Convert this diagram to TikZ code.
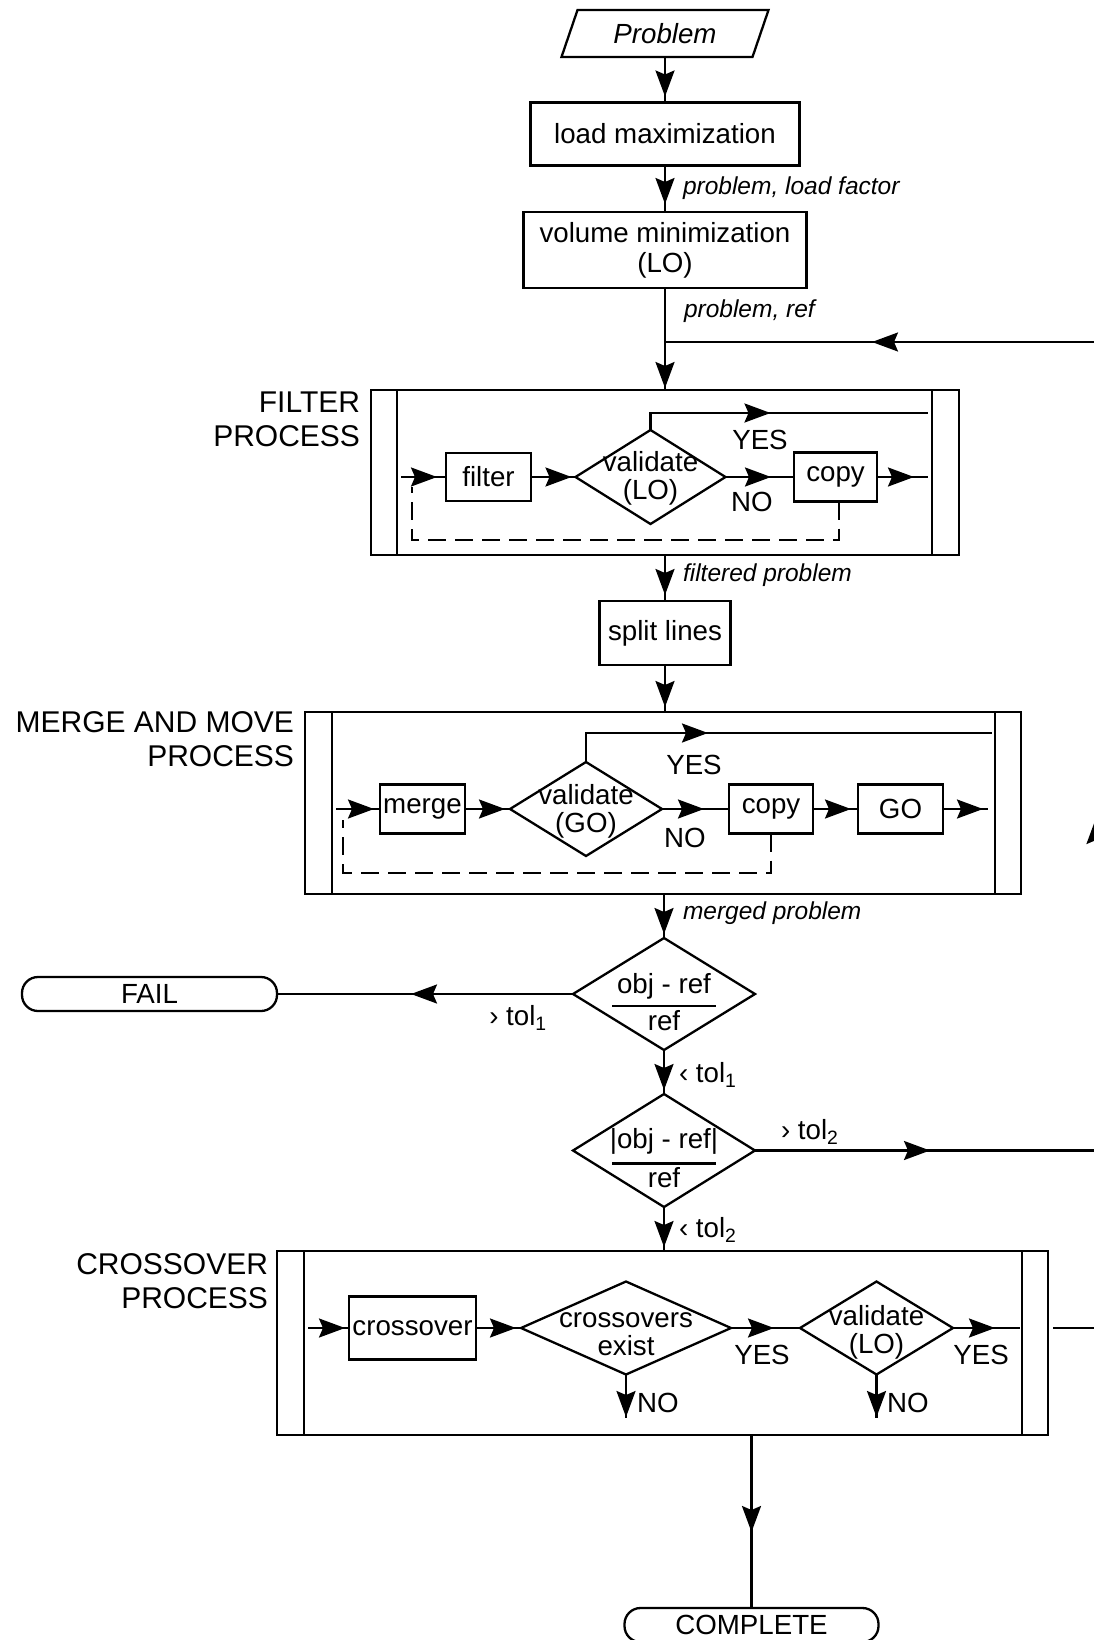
\documentclass[tikz,border=0pt]{standalone}
\usepackage{fontspec}
\setmainfont{Liberation Sans}
\usetikzlibrary{arrows.meta,shapes.geometric,decorations.markings}

\begin{document}
\begin{tikzpicture}[x=1pt,y=-1pt,line width=2.3pt,
  every node/.style={font=\fontsize{27.7}{28}\selectfont,inner sep=0pt,outer sep=0pt},
  box/.style={draw,rectangle},
  dia/.style={draw,diamond},
  term/.style={draw,rectangle,rounded corners=16pt,minimum height=34pt},
  lbl/.style={font=\fontsize{24.5}{28}\selectfont\itshape,anchor=west},
  ptitle/.style={font=\fontsize{30}{34}\selectfont,align=right,anchor=east},
  loopline/.style={dash pattern=on 18pt off 9pt},
  arr/.style={postaction={decorate},decoration={markings,
    mark=at position #1 with {\arrow{Stealth[length=26pt,width=19pt,inset=4pt]}}}},
]
\useasboundingbox (0,0) rectangle (1094,1640);
\clip (0,0) rectangle (1094,1640);

% ---------- input and preprocessing ----------
\node[minimum width=191pt,minimum height=47pt] (prob) at (665,33.5) {\itshape Problem};
\draw ([xshift=-8pt]prob.south west) -- ([xshift=8pt]prob.north west)
   -- ([xshift=8pt]prob.north east) -- ([xshift=-8pt]prob.south east) -- cycle;
\node[box,minimum width=269pt,minimum height=63pt] (lm) at (665,134) {load maximization};
\node[box,minimum width=283pt,minimum height=76pt,align=center,
      font=\fontsize{27.7}{30}\selectfont] (vm) at (665,250) {volume minimization\\(LO)};
\draw[arr=-6pt] (prob) -- (lm);
\draw[arr=-8pt] (lm) -- (vm);
\node[lbl] (l1) at (683,188) {problem, load factor};
\node[lbl] (l2) at (684,311) {problem, ref};
\coordinate (j1) at (665,342);

% ---------- filter process ----------
\node[box,minimum width=588pt,minimum height=165pt] (fp) at (665,472.5) {};
\draw ([xshift=26pt]fp.north west) -- ([xshift=26pt]fp.south west);
\draw ([xshift=-27pt]fp.north east) -- ([xshift=-27pt]fp.south east);
\node[ptitle] (fpt) at (360,419) {FILTER\\PROCESS};
\draw[arr=-2pt] (vm) -- (vm |- fp.north);

\coordinate (fin) at (401,477);
\node[box,minimum width=85pt,minimum height=48pt] (filt) at (488.5,477) {filter};
\node[dia,minimum width=150pt,minimum height=94pt] (v1) at (650.5,477) {};
\node[align=center] (v1t) at (650.5,478) {validate\\(LO)};
\node[box,minimum width=83pt,minimum height=49pt] (cp1) at (835.5,477) {copy};
\coordinate (fyes) at (928,413);
\coordinate (fout) at (928,477);
\draw[arr=-9pt] (fin) -- (filt);
\draw[arr=-4pt] (filt) -- (v1);
\draw[arr=137pt] (v1.north) |- (fyes);
\draw[arr=-23pt] (v1) -- (cp1);
\draw[arr=-14pt] (cp1) -- (fout);
\node (fy) at (760,440) {YES};
\node (fn) at (752,502) {NO};
\coordinate (fl1) at (412,540);
\coordinate (fl0) at (412,487);
\draw[loopline] ([xshift=3.5pt]cp1.south) |- (fl1) -- (fl0);

% ---------- split lines ----------
\node[box,minimum width=131pt,minimum height=64pt] (sp) at (665,633) {split lines};
\draw[arr=-6pt] (fp) -- (sp);
\node[lbl] (l3) at (683,575) {filtered problem};

% ---------- merge and move process ----------
\node[box,minimum width=716pt,minimum height=182pt] (mp) at (663,803) {};
\draw ([xshift=27pt]mp.north west) -- ([xshift=27pt]mp.south west);
\draw ([xshift=-26pt]mp.north east) -- ([xshift=-26pt]mp.south east);
\node[ptitle] (mpt) at (294,739) {MERGE AND MOVE\\PROCESS};
\draw[arr=-5pt] (sp) -- (sp |- mp.north);

\coordinate (mfin) at (336,809);
\node[box,minimum width=85pt,minimum height=49pt] (mg) at (422.5,809) {merge};
\node[dia,minimum width=152pt,minimum height=94pt] (v2) at (586,809) {};
\node[align=center] (v2t) at (586,811) {validate\\(GO)};
\node[box,minimum width=84pt,minimum height=49pt] (cp2) at (771,809) {copy};
\node[box,minimum width=85pt,minimum height=49pt] (go) at (900.5,809) {GO};
\coordinate (myes) at (992,733);
\coordinate (mout) at (988,809);
\draw[arr=-6pt] (mfin) -- (mg);
\draw[arr=-5pt] (mg) -- (v2);
\draw[arr=151pt] (v2.north) |- (myes);
\draw[arr=-25pt] (v2) -- (cp2);
\draw[arr=-7pt] (cp2) -- (go);
\draw[arr=-5pt] (go) -- (mout);
\node (my) at (694,765) {YES};
\node (mn) at (685,838) {NO};
\coordinate (ml1) at (343,873);
\coordinate (ml0) at (343,820);
\draw[loopline] (cp2.south) |- (ml1) -- (ml0);

% ---------- tolerance checks ----------
\node[dia,minimum width=182pt,minimum height=112pt] (d1) at (664,994) {};
\node (d1a) at (664,986) {obj - ref};
\node (d1b) at (664,1021) {ref};
\draw ([shift={(-52,12)}]d1.center) -- ([shift={(52,12)}]d1.center);
\draw[arr=-4pt] (d1 |- mp.south) -- (d1);
\node[lbl] (l4) at (683,913) {merged problem};

\node[term,minimum width=255pt] (fail) at (149.5,994) {FAIL};
\draw[arr=162pt] (d1) -- (fail);
\node (t1a) at (518,1018) {› tol\textsubscript{1}};

\node[dia,minimum width=182pt,minimum height=113pt] (d2) at (664,1150.5) {};
\node (d2a) at (664,1141) {|obj - ref|};
\node (d2b) at (664,1178) {ref};
\draw ([shift={(-52,13)}]d2.center) -- ([shift={(52,13)}]d2.center);
\draw[arr=-4pt] (d1) -- (d2);
\node[anchor=west] (t1b) at (679,1075) {‹ tol\textsubscript{1}};

\coordinate (rr2) at (1096,1150.5);
\draw[arr=175pt] (d2) -- (rr2);
\node[anchor=west] (t2a) at (781,1132) {› tol\textsubscript{2}};

% ---------- crossover process ----------
\node[box,minimum width=771pt,minimum height=184pt] (cpr) at (662.5,1343) {};
\draw ([xshift=27pt]cpr.north west) -- ([xshift=27pt]cpr.south west);
\draw ([xshift=-26pt]cpr.north east) -- ([xshift=-26pt]cpr.south east);
\node[ptitle] (cpt) at (268,1281) {CROSSOVER\\PROCESS};
\draw[arr=-4pt] (d2) -- (d2 |- cpr.north);
\node[anchor=west] (t2b) at (679,1230) {‹ tol\textsubscript{2}};

\coordinate (cfin) at (308,1328);
\node[box,minimum width=127pt,minimum height=63pt] (cx) at (412.5,1328) {crossover};
\node[dia,minimum width=210pt,minimum height=93pt] (d3) at (626,1328) {};
\node[align=center] (d3t) at (626,1334) {crossovers\\exist};
\node[dia,minimum width=153pt,minimum height=93pt] (d4) at (876.5,1328) {};
\node[align=center] (d4t) at (876.5,1332) {validate\\(LO)};
\coordinate (cout) at (1020,1328);
\coordinate (n3) at (626,1418);
\coordinate (n4) at (876.5,1418);
\draw[arr=-4pt] (cfin) -- (cx);
\draw[arr=-5pt] (cx) -- (d3);
\draw[arr=-26pt] (d3) -- (d4);
\draw[arr=-25pt] (d4) -- (cout);
\draw[arr=-1pt] (d3) -- (n3);
\draw[arr=-1pt] (d4) -- (n4);
\node (cy1) at (762,1355) {YES};
\node (cy2) at (981,1355) {YES};
\node[anchor=west] (cn1) at (637,1403) {NO};
\node[anchor=west] (cn2) at (887,1403) {NO};

% ---------- return loop ----------
\coordinate (cq) at (1053,1328);
\coordinate (r1) at (1096,1328);
\coordinate (r0) at (1096,342);
\draw (cq) -- (r1);
\draw[arr=510pt] (r1) -- (r0);
\draw[arr=224pt] (r0) -- (j1);

% ---------- end ----------
\node[term,minimum width=254pt] (comp) at (751.5,1625) {COMPLETE};
\draw[arr=97pt] (comp |- cpr.south) -- (comp);

\end{tikzpicture}
\end{document}
